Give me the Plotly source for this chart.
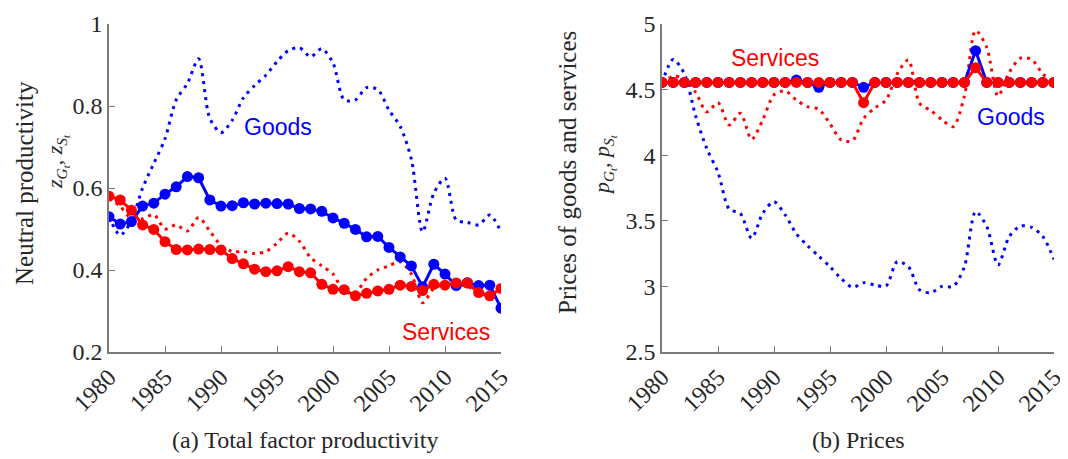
import plotly.graph_objects as go

years = list(range(1980, 2016))

# Panel (a): neutral productivity
goods_tfp_model = [0.530, 0.512, 0.518, 0.556, 0.563, 0.585, 0.603, 0.628, 0.625, 0.571,
                   0.556, 0.557, 0.564, 0.561, 0.563, 0.562, 0.561, 0.550, 0.549, 0.543,
                   0.527, 0.514, 0.499, 0.481, 0.482, 0.455, 0.432, 0.410, 0.359, 0.414,
                   0.390, 0.362, 0.369, 0.362, 0.363, 0.307]
services_tfp_model = [0.580, 0.571, 0.546, 0.510, 0.499, 0.469, 0.450, 0.449, 0.451, 0.450,
                      0.449, 0.428, 0.415, 0.402, 0.396, 0.398, 0.408, 0.396, 0.393, 0.365,
                      0.353, 0.352, 0.337, 0.343, 0.349, 0.353, 0.363, 0.360, 0.350, 0.365,
                      0.363, 0.368, 0.368, 0.345, 0.337, 0.355]
goods_tfp_data = [0.530, 0.485, 0.520, 0.600, 0.660, 0.720, 0.815, 0.855, 0.915, 0.770,
                  0.735, 0.765, 0.820, 0.850, 0.875, 0.908, 0.935, 0.942, 0.920, 0.940,
                  0.905, 0.815, 0.815, 0.845, 0.840, 0.790, 0.750, 0.670, 0.493, 0.587,
                  0.624, 0.522, 0.516, 0.510, 0.534, 0.493]
services_tfp_data = [0.575, 0.555, 0.525, 0.525, 0.535, 0.500, 0.510, 0.495, 0.528, 0.495,
                     0.460, 0.445, 0.445, 0.440, 0.445, 0.465, 0.490, 0.470, 0.430, 0.410,
                     0.390, 0.348, 0.345, 0.380, 0.400, 0.410, 0.420, 0.390, 0.320, 0.355,
                     0.365, 0.365, 0.360, 0.345, 0.340, 0.350]

# Panel (b): prices
goods_price_model = [4.555] * 12 + [4.573, 4.555, 4.517, 4.555, 4.555, 4.555, 4.517] + [4.555] * 9 + [4.797] + [4.555] * 7
services_price_model = [4.555] * 18 + [4.400] + [4.555] * 9 + [4.667] + [4.555] * 7
goods_price_data = [4.55, 4.73, 4.62, 4.30, 4.05, 3.87, 3.59, 3.555, 3.367, 3.557,
                    3.646, 3.545, 3.40, 3.31, 3.23, 3.15, 3.06, 2.993, 3.028, 3.01,
                    3.003, 3.188, 3.15, 2.973, 2.952, 3.00, 3.00, 3.15, 3.57, 3.455,
                    3.163, 3.379, 3.46, 3.45, 3.38, 3.206]
services_price_data = [4.55, 4.60, 4.585, 4.48, 4.33, 4.40, 4.23, 4.32, 4.12, 4.27,
                       4.46, 4.49, 4.42, 4.37, 4.35, 4.24, 4.116, 4.11, 4.28, 4.36,
                       4.42, 4.62, 4.726, 4.395, 4.34, 4.27, 4.217, 4.45, 4.95, 4.82,
                       4.45, 4.63, 4.74, 4.73, 4.62, 4.55]

x_ticks = [1980, 1985, 1990, 1995, 2000, 2005, 2010, 2015]
x_ticklabels = ["1980", "1985", "1990", "1995", "2000", "2005", "2010", "2015"]
ya_ticks = [0.2, 0.4, 0.6, 0.8, 1.0]
ya_ticklabels = ["0.2", "0.4", "0.6", "0.8", "1"]
yb_ticks = [2.5, 3.0, 3.5, 4.0, 4.5, 5.0]
yb_ticklabels = ["2.5", "3", "3.5", "4", "4.5", "5"]

BLUE = "#0000FF"
RED = "#FF0000"
OFF = 8  # default page body margin
W, H = 1068 - OFF, 459 - OFF
DOT = "3px,5px"
SERIF = "Liberation Serif, Times New Roman, serif"
SANS = "Liberation Sans, Arial, sans-serif"


def fx(px):
    return (px - OFF) / W


def fy(py):
    return 1 - (py - OFF) / H


fig = go.Figure()


def add_panel(xa, ya, gm, sm, gd, sd):
    fig.add_trace(go.Scatter(x=years, y=gd, mode="lines", xaxis=xa, yaxis=ya,
                             line=dict(color=BLUE, width=3, dash=DOT, shape="spline", smoothing=0.8),
                             showlegend=False, hoverinfo="skip"))
    fig.add_trace(go.Scatter(x=years, y=sd, mode="lines", xaxis=xa, yaxis=ya,
                             line=dict(color=RED, width=3, dash=DOT, shape="spline", smoothing=0.8),
                             showlegend=False, hoverinfo="skip"))
    fig.add_trace(go.Scatter(x=years, y=gm, mode="lines+markers", xaxis=xa, yaxis=ya,
                             line=dict(color=BLUE, width=3),
                             marker=dict(color=BLUE, size=11),
                             showlegend=False))
    fig.add_trace(go.Scatter(x=years, y=sm, mode="lines+markers", xaxis=xa, yaxis=ya,
                             line=dict(color=RED, width=3),
                             marker=dict(color=RED, size=11),
                             showlegend=False))


add_panel("x", "y", goods_tfp_model, services_tfp_model, goods_tfp_data, services_tfp_data)
add_panel("x2", "y2", goods_price_model, services_price_model, goods_price_data, services_price_data)


def axis_style():
    return dict(showline=True, linecolor="#7a7a7a", linewidth=1.5, ticks="inside",
                ticklen=6, tickcolor="#7a7a7a", tickwidth=1.2, showgrid=False,
                zeroline=False, automargin=False, mirror=False,
                tickfont=dict(family=SERIF, size=24, color="#262626"))


ydom = [fy(352), fy(24)]
fig.update_layout(
    width=W, height=H,
    margin=dict(l=0, r=0, t=0, b=0),
    font=dict(family=SERIF, size=23, color="#262626"),
    paper_bgcolor="white", plot_bgcolor="white",
    xaxis=dict(domain=[fx(109), fx(501)], range=[1980, 2015], tickvals=x_ticks,
               ticktext=x_ticklabels, tickangle=-45, anchor="y", **axis_style()),
    yaxis=dict(domain=ydom, range=[0.2, 1.0], tickvals=ya_ticks, ticktext=ya_ticklabels,
               anchor="x", **axis_style()),
    xaxis2=dict(domain=[fx(662), fx(1054)], range=[1980, 2015], tickvals=x_ticks,
                ticktext=x_ticklabels, tickangle=-45, anchor="y2", **axis_style()),
    yaxis2=dict(domain=ydom, range=[2.5, 5.0], tickvals=yb_ticks, ticktext=yb_ticklabels,
                anchor="x2", **axis_style()),
)


def px_ann(text, x, y, size, color="#262626", family=SERIF, angle=0):
    fig.add_annotation(text=text, x=fx(x), y=fy(y), xref="paper", yref="paper",
                       showarrow=False, textangle=angle, xanchor="center", yanchor="middle",
                       font=dict(family=family, size=size, color=color))


# axis titles
px_ann("Neutral productivity", 25, 183, 25, angle=-90)
px_ann("<i>z</i><sub><i>G</i><sub><i>t</i></sub></sub>, <i>z</i><sub><i>S</i><sub><i>t</i></sub></sub>",
       57, 162, 22, angle=-90)
px_ann("Prices of goods and services", 567, 173, 25, angle=-90)
px_ann("<i>p</i><sub><i>G</i><sub><i>t</i></sub></sub>, <i>p</i><sub><i>S</i><sub><i>t</i></sub></sub>",
       604, 165, 22, angle=-90)

# captions
px_ann("(a) Total factor productivity", 305, 440, 24)
px_ann("(b) Prices", 858, 440, 24)

# series labels
px_ann("Goods", 278, 127, 23, color=BLUE, family=SANS)
px_ann("Services", 446, 332, 23, color=RED, family=SANS)
px_ann("Services", 775, 58, 23, color=RED, family=SANS)
px_ann("Goods", 1011, 117, 23, color=BLUE, family=SANS)

fig.write_html("out.html")
